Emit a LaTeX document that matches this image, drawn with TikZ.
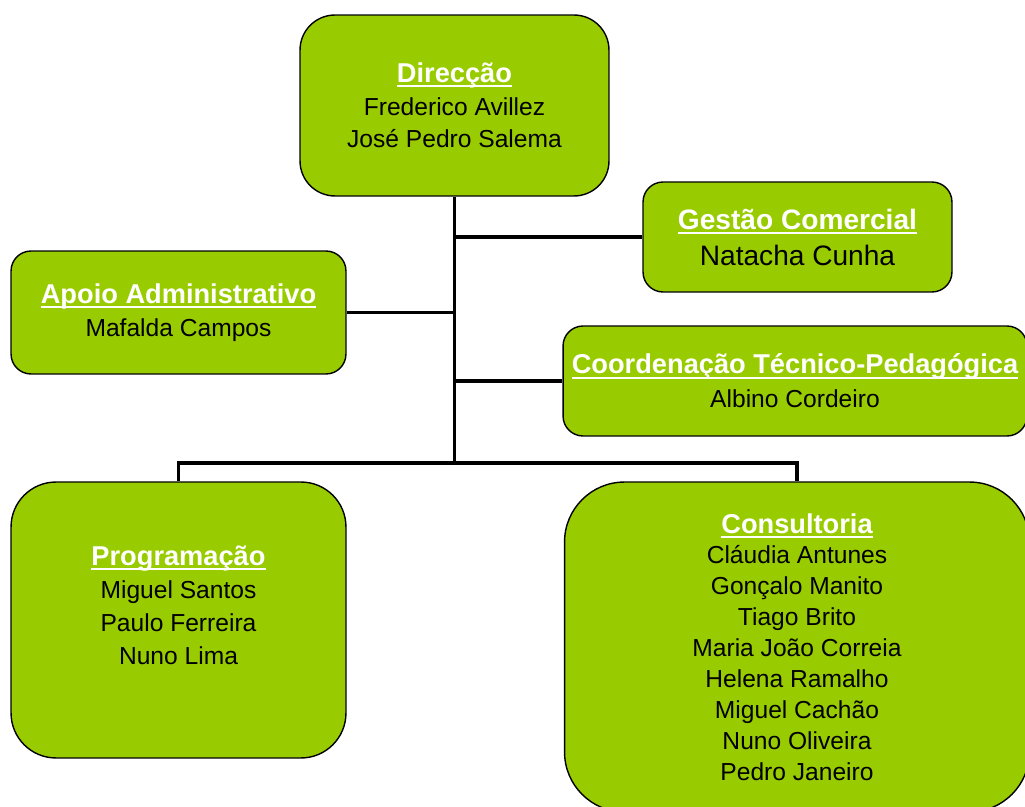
\documentclass[tikz,border=0pt]{standalone}
\usepackage{fontspec}
\setmainfont{Liberation Sans}
\usetikzlibrary{positioning}
\definecolor{boxgreen}{HTML}{99CC00}
% heading: white, bold, underlined
\newcommand{\hd}[2][15.5]{{\fontsize{#1}{18.5}\selectfont\bfseries\color{white}%
  \setbox0\hbox{#2}\rlap{\rule[-2.6pt]{\wd0}{1.1pt}}\box0}}
\tikzset{
  box/.style={draw=black, line width=0.8pt, fill=boxgreen, align=center,
    font=\fontsize{14}{18.5}\selectfont, inner sep=0pt},
  conn/.style={draw=black, line width=2.2pt}
}
\begin{document}
\begin{tikzpicture}[x=0.02cm,y=-0.02cm]
  \useasboundingbox (0,0) rectangle (1025,807);
  \node (dir) [box, rounded corners=0.7cm, minimum width=6.18cm, minimum height=3.62cm]
    at (454.5,105.5) {\hd{Direcção}\\Frederico Avillez\\José Pedro Salema};
  \node (gest) [box, rounded corners=0.4cm, minimum width=6.18cm, minimum height=2.2cm,
    font=\fontsize{16}{20.5}\selectfont]
    at (797.5,237) {\hd[16]{Gestão Comercial}\\Natacha Cunha};
  \node (apoio) [box, rounded corners=0.4cm, minimum width=6.7cm, minimum height=2.46cm]
    at (178.5,312.5) {\hd{Apoio Administrativo}\\Mafalda Campos};
  \node (coord) [box, rounded corners=0.4cm, minimum width=9.28cm, minimum height=2.2cm,
    font=\fontsize{14}{19.2}\selectfont]
    at (795,381) {\hd{Coordenação Técnico-Pedagógica}\\Albino Cordeiro};
  \node (prog) [box, rounded corners=0.9cm, minimum width=6.7cm, minimum height=5.52cm,
    font=\fontsize{14}{18.7}\selectfont]
    at (178.5,620) {\hd{Programação}\\Miguel Santos\\Paulo Ferreira\\Nuno Lima\\[-0.06cm]};
  \node (cons) [box, rounded corners=1.2cm, minimum width=9.3cm, minimum height=6.6cm,
    font=\fontsize{14}{17.6}\selectfont]
    at (797,647) {\hd{Consultoria}\\Cláudia Antunes\\Gonçalo Manito\\Tiago Brito\\
    Maria João Correia\\Helena Ramalho\\Miguel Cachão\\Nuno Oliveira\\Pedro Janeiro};
  % connectors
  \coordinate (busL) at (178.5,463);
  \coordinate (busR) at (797,463);
  \draw[conn] (dir.south) -- (dir.south |- busL);
  \draw[conn] (prog.north) -- (busL) -- (busR) -- (cons.north);
  \draw[conn] (gest.west) -- (gest.west -| dir.south);
  \draw[conn] (apoio.east) -- (apoio.east -| dir.south);
  \draw[conn] (coord.west) -- (coord.west -| dir.south);
\end{tikzpicture}
\end{document}
